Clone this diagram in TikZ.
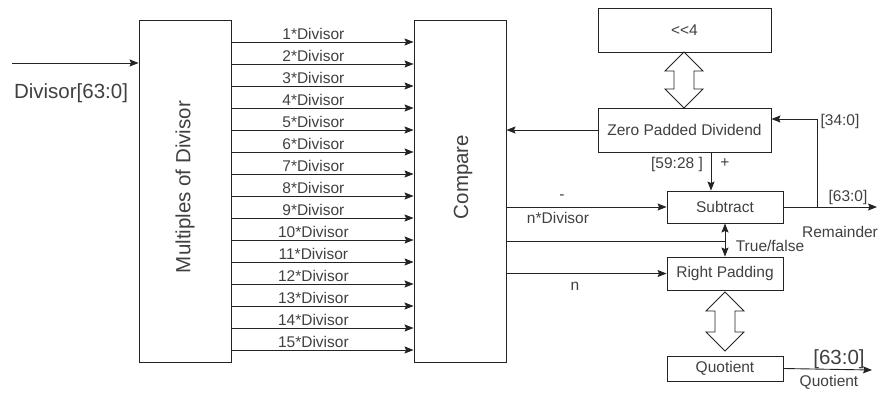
\documentclass[tikz,border=0pt]{standalone}
\usepackage{fontspec}
\setmainfont{Liberation Sans}
\usetikzlibrary{arrows.meta}

\definecolor{txtgray}{RGB}{64,64,64}
\definecolor{linegray}{RGB}{35,35,35}

% hollow double arrow between two boxes: x, top y, bottom y
\newcommand{\fatarrow}[3]{%
  \draw[line width=0.9pt, draw=linegray, fill=white]
    (#1,#2) -- ({#1+19},{#2+19}) -- ({#1+10},{#2+19}) -- ({#1+10},{#3-19})
    -- ({#1+19},{#3-19}) -- (#1,#3) -- ({#1-19},{#3-19}) -- ({#1-10},{#3-19})
    -- ({#1-10},{#2+19}) -- ({#1-19},{#2+19}) -- cycle;}

\begin{document}
\begin{tikzpicture}[x=1pt, y=-1pt,
  box/.style={draw=linegray, line width=0.9pt, inner sep=0pt, text=txtgray,
              font=\fontsize{15.5}{18}\selectfont},
  lbl/.style={text=txtgray, inner sep=2pt, font=\fontsize{15.5}{18}\selectfont},
  biglbl/.style={text=txtgray, inner sep=0pt, font=\fontsize{20.5}{24}\selectfont},
  arr/.style={draw=linegray, line width=0.9pt, -{Stealth[length=9pt,width=7pt,inset=1.5pt]}},
  arrs/.style={draw=linegray, line width=0.9pt, {Stealth[length=9pt,width=7pt,inset=1.5pt]}-{Stealth[length=9pt,width=7pt,inset=1.5pt]}}]
  \useasboundingbox (0,0) rectangle (881,392);

  % the two tall blocks
  \node[box, minimum width=92pt, minimum height=342pt] (mult) at (185,191) {};
  \node[box, minimum width=92pt, minimum height=342pt] (cmp) at (460,191) {};
  \node[biglbl, rotate=90] (multtxt) at (185,187) {Multiples of Divisor};
  \node[biglbl, rotate=90] (cmptxt) at (463,177) {Compare};

  % blocks on the right
  \node[box, minimum width=173pt, minimum height=44pt] (shl) at (684.5,30) {{<}{<}4};
  \node[box, minimum width=173pt, minimum height=44pt] (zpd) at (684.5,130) {Zero Padded Dividend};
  \node[box, minimum width=116pt, minimum height=32pt] (sub) at (725,207) {Subtract};
  \node[box, minimum width=116pt, minimum height=33pt] (rpad) at (725,273.5) {Right Padding};
  \node[box, minimum width=116pt, minimum height=25pt] (quot) at (725,368.5) {Quotient};

  % divisor input
  \coordinate (din) at (12,63);
  \draw[arr] (din) -- (mult.west |- din);
  \node[biglbl] (dinlbl) at (71,93) {Divisor[63:0]};

  % multiples 1..15
  \foreach \k in {1,...,15} {
    \pgfmathsetmacro\yy{42+22*(\k-1)}
    \draw[arr] (mult.east |- 0,\yy) -- (cmp.west |- 0,\yy)
      node[lbl, pos=0.45, above] {\k*Divisor};
  }

  % shift block and padded dividend
  \fatarrow{684}{52}{108}
  \draw[arr] (zpd.west) -- (cmp.east |- zpd.west);
  \draw[arr] ([xshift=26.5pt]zpd.south) -- ([xshift=26.5pt]zpd.south |- sub.north);
  \node[lbl] (hibits) at (677,164) {[59:28 ]};
  \node[lbl] (plus) at (725,163) {+};

  % subtract
  \draw[arr] (cmp.east |- sub.west) -- (sub.west);
  \node[lbl] (minus) at (562,197) {-};
  \node[lbl] (ndiv) at (558,218) {n*Divisor};
  \coordinate (rem) at (877,207);
  \coordinate (fb) at (817,207);
  \draw[arr] (sub.east) -- (rem);
  \draw[arr] (fb) |- ([yshift=11pt]zpd.east);
  \node[lbl] (lobits) at (840,121) {[34:0]};
  \node[lbl] (remhdr) at (848,197) {[63:0]};
  \node[lbl] (remlbl) at (840,232) {Remainder};

  % true/false and n into right padding
  \draw[draw=linegray, line width=0.9pt] (cmp.east |- 0,241) -- (sub.south |- 0,241);
  \draw[arrs] (sub.south) -- (rpad.north);
  \node[lbl] (tf) at (770,246) {True/false};
  \draw[arr] (cmp.east |- rpad.west) -- (rpad.west);
  \node[lbl] (nlbl) at (575,286) {n};

  % quotient
  \fatarrow{725}{292}{351}
  \coordinate (qout) at (872,370);
  \draw[arr] (quot.east) -- (qout);
  \node[biglbl] (quothdr) at (839,359) {[63:0]};
  \node[lbl] (quotlbl) at (829,382) {Quotient};
\end{tikzpicture}
\end{document}
